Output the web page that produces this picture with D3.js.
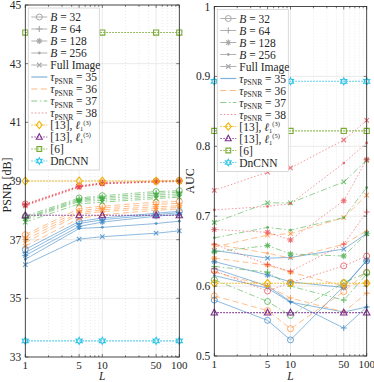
<!DOCTYPE html>
<html>
<head>
<meta charset="utf-8">
<script src="https://cdn.jsdelivr.net/npm/d3@7"></script>
<style>
  body { margin: 0; background: #fff; }
  svg { font-family: "Liberation Serif", "DejaVu Serif", serif; }
</style>
</head>
<body>
<div id="chart"></div>
<script>
// x values (number of looks)
const Lvals = [1, 5, 10, 50, 100];
const blockNames = ["32", "64", "128", "256", "Full Image"];
const blockMarks = ["o", "+", "*", ".", "x"];
const tauNames = ["35", "36", "37", "38"];

// PSNR [dB], one row per block size (B=32, 64, 128, 256, full image)
const psnr35 = [
  [36.67, 37.62, 37.74, 37.90, 37.97],
  [36.56, 37.55, 37.68, 37.85, 37.92],
  [36.46, 37.45, 37.60, 37.80, 37.86],
  [36.33, 37.38, 37.42, 37.55, 37.63],
  [36.15, 37.02, 37.10, 37.22, 37.30]
];
const psnr36 = [
  [37.17, 38.06, 38.14, 38.28, 38.30],
  [37.10, 37.98, 38.08, 38.20, 38.24],
  [37.00, 37.92, 38.02, 38.12, 38.16],
  [36.90, 37.86, 37.96, 38.06, 38.10],
  [36.78, 37.72, 37.85, 38.00, 38.05]
];
const psnr37 = [
  [37.80, 38.42, 38.50, 38.64, 38.67],
  [37.75, 38.38, 38.45, 38.58, 38.62],
  [37.72, 38.34, 38.40, 38.52, 38.56],
  [37.68, 38.30, 38.34, 38.46, 38.50],
  [37.60, 38.22, 38.28, 38.40, 38.45]
];
const psnr38 = [
  [38.22, 38.84, 38.94, 39.00, 39.02],
  [38.20, 38.82, 38.93, 38.99, 39.01],
  [38.19, 38.81, 38.92, 38.98, 39.00],
  [38.18, 38.80, 38.91, 38.97, 38.99],
  [38.15, 38.78, 38.90, 38.96, 38.98]
];

// AUC, same layout
const auc35 = [
  [0.580, 0.551, 0.523, 0.600, 0.636],
  [0.625, 0.600, 0.578, 0.540, 0.570],
  [0.635, 0.616, 0.606, 0.598, 0.637],
  [0.615, 0.597, 0.577, 0.563, 0.570],
  [0.651, 0.640, 0.641, 0.653, 0.675]
];
const auc36 = [
  [0.586, 0.565, 0.539, 0.592, 0.620],
  [0.620, 0.600, 0.583, 0.563, 0.590],
  [0.640, 0.630, 0.620, 0.600, 0.605],
  [0.660, 0.647, 0.640, 0.660, 0.679],
  [0.656, 0.673, 0.675, 0.698, 0.730]
];
const auc37 = [
  [0.609, 0.578, 0.558, 0.605, 0.619],
  [0.628, 0.620, 0.600, 0.580, 0.617],
  [0.649, 0.658, 0.646, 0.643, 0.675],
  [0.669, 0.684, 0.680, 0.698, 0.741],
  [0.691, 0.719, 0.719, 0.749, 0.780]
];
const auc38 = [
  [0.622, 0.593, 0.605, 0.629, 0.643],
  [0.660, 0.631, 0.621, 0.660, 0.706],
  [0.681, 0.677, 0.666, 0.722, 0.781],
  [0.709, 0.714, 0.718, 0.776, 0.805],
  [0.737, 0.763, 0.769, 0.809, 0.837]
];

// reference methods: [13] l1(3), [13] l1(5), [6], DnCNN
const psnrRef = [39.00, 37.83, 44.06, 33.55];
const aucRef = [0.604, 0.562, 0.822, 0.893];

const tauColors = ["#2f7fc1", "#ff8c2e", "#3aa83a", "#e8434a"];
const tauDash = [null, "6,3.5", "6,2.5,1.5,2.5", "1.5,2"];
const refColors = ["#f0b400", "#7e2f8e", "#77ac30", "#2ec4e6"];
const refMarks = ["d", "^", "s", "h"];

const W = 374, H = 382;
const svg = d3.select("#chart").append("svg")
  .attr("width", W).attr("height", H);

function markerPath(type, s) {
  if (type === "+") return `M${-s},0H${s}M0,${-s}V${s}`;
  if (type === "x") return `M${-s*.75},${-s*.75}L${s*.75},${s*.75}M${-s*.75},${s*.75}L${s*.75},${-s*.75}`;
  if (type === "*") return `M${-s},0H${s}M0,${-s}V${s}M${-s*.7},${-s*.7}L${s*.7},${s*.7}M${-s*.7},${s*.7}L${s*.7},${-s*.7}`;
  if (type === "d") return `M0,${-s*1.2}L${s},0L0,${s*1.2}L${-s},0Z`;
  if (type === "^") return `M0,${-s*1.1}L${s},${s*.75}L${-s},${s*.75}Z`;
  if (type === "s") return `M${-s*.8},${-s*.8}H${s*.8}V${s*.8}H${-s*.8}Z`;
  if (type === "h") {
    const p = [];
    for (let i = 0; i < 12; i++) {
      const r = i % 2 ? s * 0.6 : s * 1.1;
      const a = Math.PI / 6 * i - Math.PI / 2;
      p.push([r * Math.cos(a), r * Math.sin(a)]);
    }
    return "M" + p.map(q => q.join(",")).join("L") + "Z";
  }
  return null;
}

function drawMarker(g, type, cx, cy, color, s) {
  if (type === "o") {
    g.append("circle").attr("cx", cx).attr("cy", cy).attr("r", s)
      .attr("fill", "none").attr("stroke", color).attr("stroke-width", 1);
  } else if (type === ".") {
    g.append("circle").attr("cx", cx).attr("cy", cy).attr("r", 1.4)
      .attr("fill", color);
  } else {
    g.append("path").attr("transform", `translate(${cx},${cy})`)
      .attr("d", markerPath(type, s))
      .attr("fill", "none").attr("stroke", color).attr("stroke-width", 1.1);
  }
}

function drawPanel(cfg) {
  const x = d3.scaleLog().domain([1, 100]).range([cfg.x0, cfg.x1]);
  const y = d3.scaleLinear().domain(cfg.yDomain).range([cfg.y1, cfg.y0]);
  const g = svg.append("g");

  // grid
  const minor = [2,3,4,6,7,8,9,20,30,40,60,70,80,90];
  g.selectAll(".mg").data(minor).join("line")
    .attr("x1", d => x(d)).attr("x2", d => x(d))
    .attr("y1", cfg.y0).attr("y2", cfg.y1)
    .attr("stroke", "#dcdcdc").attr("stroke-width", 0.6)
    .attr("stroke-dasharray", "1,2");
  g.selectAll(".vg").data(Lvals).join("line")
    .attr("x1", d => x(d)).attr("x2", d => x(d))
    .attr("y1", cfg.y0).attr("y2", cfg.y1)
    .attr("stroke", "#e6e6e6").attr("stroke-width", 0.8);
  g.selectAll(".hg").data(cfg.yTicks).join("line")
    .attr("x1", cfg.x0).attr("x2", cfg.x1)
    .attr("y1", d => y(d)).attr("y2", d => y(d))
    .attr("stroke", "#e6e6e6").attr("stroke-width", 0.8);

  const line = d3.line().x((d, i) => x(Lvals[i])).y(d => y(d));

  // method lines
  cfg.series.forEach((rows, t) => {
    rows.forEach((vals, b) => {
      g.append("path").datum(vals)
        .attr("d", line).attr("fill", "none")
        .attr("stroke", tauColors[t]).attr("stroke-width", 0.9)
        .attr("stroke-opacity", 0.6)
        .attr("stroke-dasharray", tauDash[t]);
      const mg = g.append("g").attr("opacity", 0.7);
      vals.forEach((v, i) => drawMarker(mg, blockMarks[b], x(Lvals[i]), y(v), tauColors[t], 3));
    });
  });

  // reference methods (constant over L)
  cfg.refs.forEach((v, k) => {
    const vals = Lvals.map(() => v);
    g.append("path").datum(vals)
      .attr("d", line).attr("fill", "none")
      .attr("stroke", refColors[k]).attr("stroke-width", 1.1)
      .attr("stroke-dasharray", "1.5,1.5");
    vals.forEach((vv, i) => drawMarker(g, refMarks[k], x(Lvals[i]), y(vv), refColors[k], 3.2));
  });

  // box and ticks
  g.append("rect").attr("x", cfg.x0).attr("y", cfg.y0)
    .attr("width", cfg.x1 - cfg.x0).attr("height", cfg.y1 - cfg.y0)
    .attr("fill", "none").attr("stroke", "#262626").attr("stroke-width", 0.8);

  const xt = Lvals.concat(minor);
  xt.forEach(d => {
    const len = Lvals.includes(d) ? 3 : 1.8;
    g.append("line").attr("x1", x(d)).attr("x2", x(d))
      .attr("y1", cfg.y1).attr("y2", cfg.y1 - len).attr("stroke", "#262626").attr("stroke-width", 0.6);
    g.append("line").attr("x1", x(d)).attr("x2", x(d))
      .attr("y1", cfg.y0).attr("y2", cfg.y0 + len).attr("stroke", "#262626").attr("stroke-width", 0.6);
  });
  cfg.yTicks.forEach(d => {
    g.append("line").attr("x1", cfg.x0).attr("x2", cfg.x0 + 3)
      .attr("y1", y(d)).attr("y2", y(d)).attr("stroke", "#262626").attr("stroke-width", 0.6);
    g.append("line").attr("x1", cfg.x1).attr("x2", cfg.x1 - 3)
      .attr("y1", y(d)).attr("y2", y(d)).attr("stroke", "#262626").attr("stroke-width", 0.6);
  });

  g.selectAll(".xl").data(Lvals).join("text")
    .attr("x", d => x(d)).attr("y", cfg.y1 + 11.5)
    .attr("text-anchor", "middle").attr("font-size", 11).attr("fill", "#262626")
    .text(d => d);
  g.selectAll(".yl").data(cfg.yTicks).join("text")
    .attr("x", cfg.x0 - 4).attr("y", d => y(d) + 4)
    .attr("text-anchor", "end").attr("font-size", 11.5).attr("fill", "#262626")
    .text(cfg.fmt);

  g.append("text").attr("x", (cfg.x0 + cfg.x1) / 2).attr("y", H - 2.5)
    .attr("text-anchor", "middle").attr("font-size", 11.5).attr("font-style", "italic")
    .attr("fill", "#262626").text("L");
  g.append("text")
    .attr("transform", `translate(${cfg.ylabX},${cfg.ylabY}) rotate(-90)`)
    .attr("text-anchor", "middle").attr("font-size", 12).attr("fill", "#262626")
    .text(cfg.ylabel);

  // legend
  const lx = cfg.x0 + 3, ly = cfg.y0 + 3, lw = 71, rowH = 12;
  const lg = g.append("g");
  lg.append("rect").attr("x", lx).attr("y", ly).attr("width", lw).attr("height", 13 * rowH + 6)
    .attr("fill", "#fff").attr("stroke", "#d0d0d0").attr("stroke-width", 0.8);
  const items = [];
  blockNames.forEach((b, i) => items.push({kind: "b", i}));
  tauNames.forEach((t, i) => items.push({kind: "t", i}));
  refMarks.forEach((m, i) => items.push({kind: "r", i}));
  items.forEach((it, k) => {
    const cy = ly + 9 + k * rowH;
    const a = lx + 3, bEnd = lx + 19, tx = lx + 22;
    let color, dash = null, mark = null, op = 1;
    if (it.kind === "b") { color = "#a8a8a8"; mark = blockMarks[it.i]; }
    if (it.kind === "t") { color = tauColors[it.i]; dash = tauDash[it.i]; op = 0.6; }
    if (it.kind === "r") { color = refColors[it.i]; dash = "1.5,1.5"; mark = refMarks[it.i]; }
    lg.append("line").attr("x1", a).attr("x2", bEnd).attr("y1", cy).attr("y2", cy)
      .attr("stroke", color).attr("stroke-width", it.kind === "t" ? 1.2 : 0.9)
      .attr("stroke-opacity", op).attr("stroke-dasharray", dash);
    if (mark) drawMarker(lg, mark, (a + bEnd) / 2, cy, color, 3);
    const t = lg.append("text").attr("x", tx).attr("y", cy + 4)
      .attr("font-size", 11.5).attr("fill", "#262626");
    if (it.kind === "b") {
      if (it.i < 4) {
        t.append("tspan").attr("font-style", "italic").text("B");
        t.append("tspan").text(" = " + blockNames[it.i]);
      } else {
        t.text("Full Image");
      }
    } else if (it.kind === "t") {
      t.append("tspan").attr("font-style", "italic").text("τ");
      t.append("tspan").attr("font-size", 7.5).attr("dy", 2.5).text("PSNR");
      t.append("tspan").attr("dy", -2.5).text(" = " + tauNames[it.i]);
    } else {
      if (it.i < 2) {
        t.append("tspan").text("[13], ");
        t.append("tspan").attr("font-style", "italic").text("ℓ");
        t.append("tspan").attr("font-size", 6.5).attr("dy", 2).text("1");
        t.append("tspan").attr("font-size", 6.5).attr("dy", -6.5).text(it.i === 0 ? "(3)" : "(5)");
      } else {
        t.text(it.i === 2 ? "[6]" : "DnCNN");
      }
    }
  });
}

drawPanel({
  x0: 25.3, x1: 179.3, y0: 5, y1: 357,
  yDomain: [33, 45], yTicks: [33, 35, 37, 39, 41, 43, 45],
  fmt: d => d, series: [psnr35, psnr36, psnr37, psnr38], refs: psnrRef,
  ylabel: "PSNR [dB]", ylabX: 11, ylabY: 185
});
drawPanel({
  x0: 214.3, x1: 366.7, y0: 6.5, y1: 356,
  yDomain: [0.5, 1], yTicks: [0.5, 0.6, 0.7, 0.8, 0.9, 1],
  fmt: d => d === 1 ? "1" : d3.format(".1f")(d), series: [auc35, auc36, auc37, auc38], refs: aucRef,
  ylabel: "AUC", ylabX: 194, ylabY: 181
});
</script>
</body>
</html>
